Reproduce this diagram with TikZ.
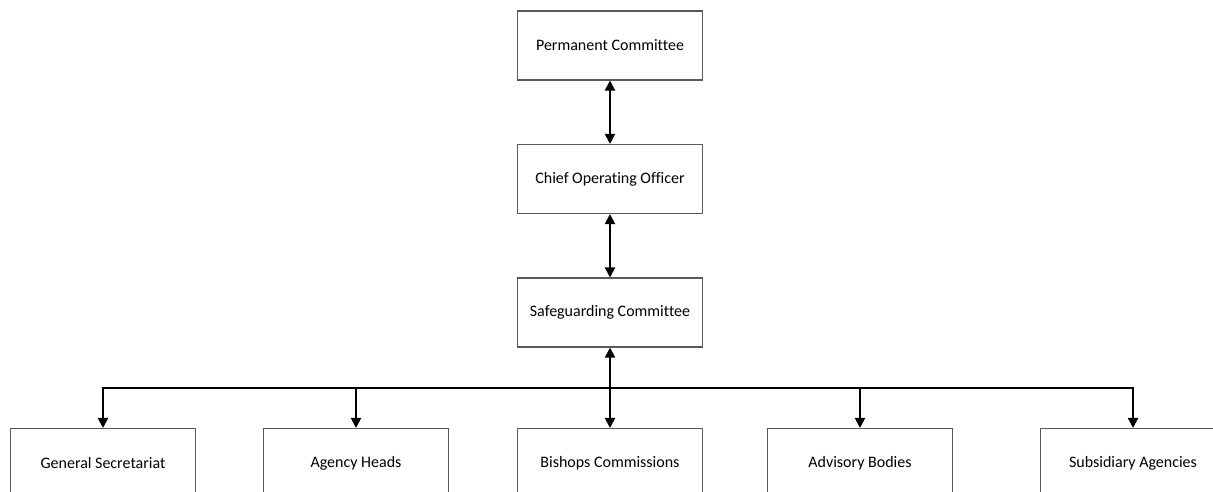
\documentclass[tikz,border=0pt]{standalone}
\usepackage{fontspec}
\setmainfont{Carlito}[Ligatures=NoCommon]
\usetikzlibrary{arrows.meta}
\begin{document}
\begin{tikzpicture}[x=0.02cm, y=-0.02cm,
        unit/.style={draw=black!65, line width=0.6pt, minimum width=3.69cm, minimum height=1.38cm,
            font=\fontsize{9.1}{11}\selectfont},
        link/.style={line width=1.1pt, -{Triangle[length=5.7pt,width=5.7pt]}},
        duplex/.style={line width=1.1pt, {Triangle[length=5.7pt,width=5.7pt]}-{Triangle[length=5.7pt,width=5.7pt]}}]
        \useasboundingbox (0,0) rectangle (1213,492);
        \clip (0,0) rectangle (1213,492);

        % --- 1. Upper chain ---
        \node[unit] (perm) at (610,45.5) {Permanent Committee};
        \node[unit] (coo) at (610,179) {Chief Operating Officer};
        \node[unit] (safe) at (610,312.5) {Safeguarding Committee};
        \draw[duplex] (perm) -- (coo);
        \draw[duplex] (coo) -- (safe);

        % --- 2. Bottom row ---
        \foreach \x/\name/\txt in {103/gensec/General Secretariat, 356/heads/Agency Heads,
                610/bishops/Bishops Commissions, 860/advisory/Advisory Bodies,
                1133/subs/Subsidiary Agencies} {
            \node[unit] (\name) at (\x,463) {\txt};
        }

        % --- 3. Branches off the bus ---
        \coordinate (bus) at (610,388);
        \draw[line width=1.1pt] (gensec.north |- bus) -- (subs.north |- bus);
        \foreach \name in {gensec, heads, advisory, subs} {
            \draw[link] (bus) -| (\name.north);
        }
        \draw[duplex] (safe) -- (bishops);

    \end{tikzpicture}
\end{document}
